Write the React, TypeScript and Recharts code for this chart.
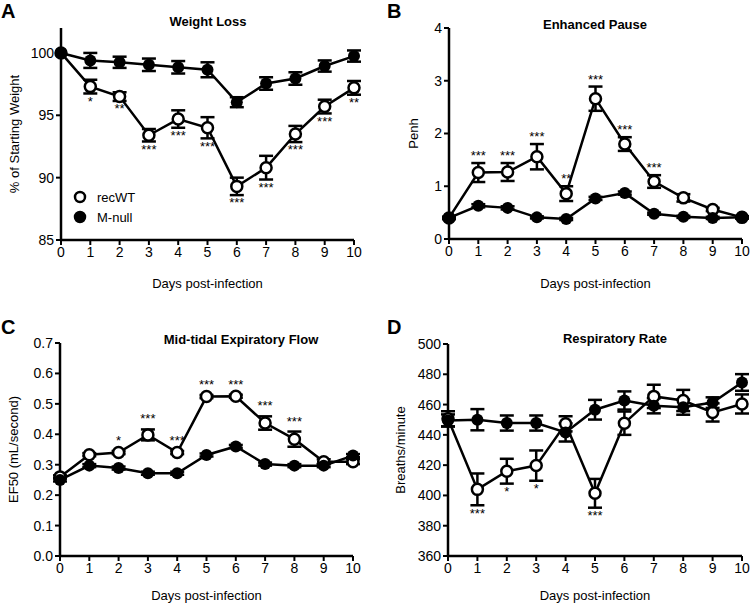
import React from "react";
import { LineChart, Line, XAxis, YAxis, ErrorBar, LabelList, Label, Legend } from "recharts";

const FONT = '"Liberation Sans", Arial, Helvetica, sans-serif';

const days = [0, 1, 2, 3, 4, 5, 6, 7, 8, 9, 10];

// A - weight loss (% of starting weight)
const weightRecWT = [100, 97.3, 96.5, 93.4, 94.7, 94.0, 89.3, 90.8, 93.5, 95.7, 97.2];
const weightRecWTErr = [0, 0.55, 0.35, 0.5, 0.7, 0.85, 0.7, 0.95, 0.65, 0.55, 0.55];
const weightMNull = [100, 99.4, 99.25, 99.05, 98.85, 98.65, 96.05, 97.55, 97.95, 98.95, 99.75];
const weightMNullErr = [0, 0.6, 0.45, 0.5, 0.5, 0.6, 0.4, 0.5, 0.5, 0.45, 0.45];
const weightStars = ["", "*", "**", "***", "***", "***", "***", "***", "***", "***", "**"];
const weightTicks = [85, 90, 95, 100];

// B - Penh
const penhRecWT = [0.4, 1.26, 1.27, 1.56, 0.86, 2.66, 1.8, 1.09, 0.78, 0.56, 0.41];
const penhRecWTErr = [0.02, 0.18, 0.17, 0.24, 0.14, 0.23, 0.13, 0.12, 0.07, 0.03, 0.02];
const penhMNull = [0.4, 0.63, 0.59, 0.41, 0.38, 0.77, 0.87, 0.48, 0.42, 0.4, 0.41];
const penhMNullErr = [0.02, 0.03, 0.03, 0.02, 0.02, 0.03, 0.03, 0.02, 0.02, 0.02, 0.02];
const penhStars = ["", "***", "***", "***", "**", "***", "***", "***", "", "", ""];
const penhTicks = [0, 1, 2, 3, 4];

// C - EF50
const ef50RecWT = [0.26, 0.333, 0.34, 0.398, 0.34, 0.524, 0.525, 0.437, 0.384, 0.31, 0.31];
const ef50RecWTErr = [0.005, 0.005, 0.005, 0.018, 0.005, 0.005, 0.005, 0.022, 0.025, 0.008, 0.008];
const ef50MNull = [0.25, 0.297, 0.289, 0.272, 0.272, 0.332, 0.36, 0.302, 0.297, 0.297, 0.33];
const ef50MNullErr = [0.005, 0.005, 0.005, 0.005, 0.005, 0.005, 0.005, 0.005, 0.005, 0.005, 0.005];
const ef50Stars = ["", "", "*", "***", "***", "***", "***", "***", "***", "", ""];
const ef50Ticks = [0, 0.1, 0.2, 0.3, 0.4, 0.5, 0.6, 0.7];

// D - breaths/minute
const rateRecWT = [450.6, 404, 416, 419.7, 447.3, 401.4, 447.7, 465.4, 462.7, 454.8, 460.4];
const rateRecWTErr = [5, 10.5, 8.2, 10, 5, 9.5, 7.7, 7.7, 7, 6, 6.3];
const rateMNull = [449.5, 450, 447.8, 447.8, 441.6, 456.6, 462.7, 459.2, 458.3, 461.3, 474.6];
const rateMNullErr = [4, 7, 5, 5, 6, 6.5, 6, 5, 5, 3.5, 5.5];
const rateStars = ["", "***", "*", "*", "", "***", "", "", "", "", ""];
const rateTicks = [360, 380, 400, 420, 440, 460, 480, 500];

function buildRows(rec, recErr, mn, mnErr, stars, below) {
  return days.map((d, i) => ({
    day: d,
    rec: rec[i],
    recErr: recErr[i],
    mnull: mn[i],
    mnullErr: mnErr[i],
    star: stars[i],
    starPos: below ? rec[i] - recErr[i] : rec[i] + recErr[i],
  }));
}

const panels = [
  {
    letter: "A", title: "Weight Loss", yLabel: "% of Starting Weight",
    rows: buildRows(weightRecWT, weightRecWTErr, weightMNull, weightMNullErr, weightStars, true),
    domain: [85, 102], ticks: weightTicks, fmt: (v) => String(v), below: true, starOffset: 3,
    left: 0, top: 0, h: 300, plotLeft: 61, plotRight: 354, plotTop: 28, plotBottom: 240,
    labelBase: 288, yLabelX: 14, titleX: 208, titleY: 22, letterY: 0, legend: true,
  },
  {
    letter: "B", title: "Enhanced Pause", yLabel: "Penh",
    rows: buildRows(penhRecWT, penhRecWTErr, penhMNull, penhMNullErr, penhStars, false),
    domain: [0, 4], ticks: penhTicks, fmt: (v) => String(v), below: false, starOffset: 3,
    left: 375, top: 0, h: 300, plotLeft: 74, plotRight: 367, plotTop: 28, plotBottom: 239,
    labelBase: 288, yLabelX: 38, titleX: 220, titleY: 25, letterY: 0, legend: false,
  },
  {
    letter: "C", title: "Mid-tidal Expiratory Flow", yLabel: "EF50 (mL/second)",
    rows: buildRows(ef50RecWT, ef50RecWTErr, ef50MNull, ef50MNullErr, ef50Stars, false),
    domain: [0, 0.7], ticks: ef50Ticks, fmt: (v) => v.toFixed(1), below: false, starOffset: 6,
    left: 0, top: 300, h: 305, plotLeft: 60, plotRight: 353, plotTop: 43, plotBottom: 256,
    labelBase: 300, yLabelX: 13, titleX: 241, titleY: 40, letterY: 16, legend: false,
  },
  {
    letter: "D", title: "Respiratory Rate", yLabel: "Breaths/minute",
    rows: buildRows(rateRecWT, rateRecWTErr, rateMNull, rateMNullErr, rateStars, true),
    domain: [360, 500], ticks: rateTicks, fmt: (v) => String(v), below: true, starOffset: 3,
    left: 375, top: 300, h: 305, plotLeft: 73, plotRight: 367, plotTop: 44, plotBottom: 256,
    labelBase: 300, yLabelX: 25, titleX: 240, titleY: 39, letterY: 16, legend: false,
  },
];

const textStyle = { fontFamily: FONT, fontSize: 13, fill: "#000" };
const tickStyle = { fontFamily: FONT, fontSize: 14, fill: "#000" };

function LegendBox() {
  const items = [
    { name: "recWT", fill: "#fff" },
    { name: "M-null", fill: "#000" },
  ];
  return (
    <svg width={90} height={44}>
      {items.map((it, i) => (
        <g key={it.name}>
          <circle cx={8} cy={10 + i * 20} r={5} fill={it.fill} stroke="#000" strokeWidth={2.5} />
          <text x={25} y={15 + i * 20} style={{ fontFamily: FONT, fontSize: 13 }} fill="#000">{it.name}</text>
        </g>
      ))}
    </svg>
  );
}

function Panel({ p }) {
  return (
    <div style={{ position: "absolute", left: p.left, top: p.top, width: 375, height: p.h }}>
      <LineChart
        width={375}
        height={p.h}
        data={p.rows}
        margin={{ top: p.plotTop, right: 375 - p.plotRight, bottom: 0, left: 0 }}
      >
        <XAxis
          type="number"
          dataKey="day"
          domain={[0, 10]}
          ticks={days}
          interval={0}
          height={p.h - p.plotBottom}
          axisLine={{ stroke: "#000", strokeWidth: 2.5 }}
          tickLine={{ stroke: "#000", strokeWidth: 2 }}
          tickSize={5}
          tickMargin={2}
          tick={tickStyle}
        >
          <Label value="Days post-infection" position="insideBottom" offset={p.h - p.labelBase} style={textStyle} />
        </XAxis>
        <YAxis
          type="number"
          domain={p.domain}
          ticks={p.ticks}
          interval={0}
          allowDataOverflow
          width={p.plotLeft}
          tickFormatter={p.fmt}
          axisLine={{ stroke: "#000", strokeWidth: 2.5 }}
          tickLine={{ stroke: "#000", strokeWidth: 2 }}
          tickSize={5}
          tickMargin={2}
          tick={tickStyle}
        >
          <Label
            value={p.yLabel}
            angle={-90}
            position="insideLeft"
            offset={p.yLabelX}
            style={{ ...textStyle, textAnchor: "middle" }}
          />
        </YAxis>
        {p.legend && (
          <Legend
            layout="vertical"
            align="center"
            verticalAlign="middle"
            wrapperStyle={{ left: 72, top: 187, width: 90 }}
            content={() => <LegendBox />}
          />
        )}
        <Line
          name="recWT"
          dataKey="rec"
          stroke="#000"
          strokeWidth={2.5}
          dot={{ r: 5.5, fill: "#fff", stroke: "#000", strokeWidth: 2.5 }}
          activeDot={false}
          isAnimationActive={false}
        >
          <ErrorBar dataKey="recErr" direction="y" width={7} stroke="#000" strokeWidth={2.5} />
        </Line>
        <Line
          name="M-null"
          dataKey="mnull"
          stroke="#000"
          strokeWidth={2.5}
          dot={{ r: 6, fill: "#000", stroke: "#000", strokeWidth: 0 }}
          activeDot={false}
          isAnimationActive={false}
        >
          <ErrorBar dataKey="mnullErr" direction="y" width={7} stroke="#000" strokeWidth={2.5} />
        </Line>
        <Line
          dataKey="starPos"
          stroke="none"
          dot={false}
          activeDot={false}
          legendType="none"
          isAnimationActive={false}
        >
          <LabelList
            dataKey="star"
            position={p.below ? "bottom" : "top"}
            offset={p.starOffset}
            style={{ fontFamily: FONT, fontSize: 13, fill: "#000" }}
          />
        </Line>
      </LineChart>
      <div style={{ position: "absolute", left: p.left === 0 ? 1 : 12, top: p.letterY, fontFamily: FONT, fontSize: 20, fontWeight: 700, lineHeight: "22px" }}>
        {p.letter}
      </div>
      <div style={{ position: "absolute", left: p.titleX - 120, width: 240, top: p.titleY - 8, textAlign: "center", fontFamily: FONT, fontSize: 13, fontWeight: 700, lineHeight: "16px" }}>
        {p.title}
      </div>
    </div>
  );
}

export default function App() {
  return (
    <div style={{ position: "absolute", left: 0, top: 0, width: 750, height: 605, background: "#fff" }}>
      {panels.map((p) => (
        <Panel key={p.letter} p={p} />
      ))}
    </div>
  );
}
